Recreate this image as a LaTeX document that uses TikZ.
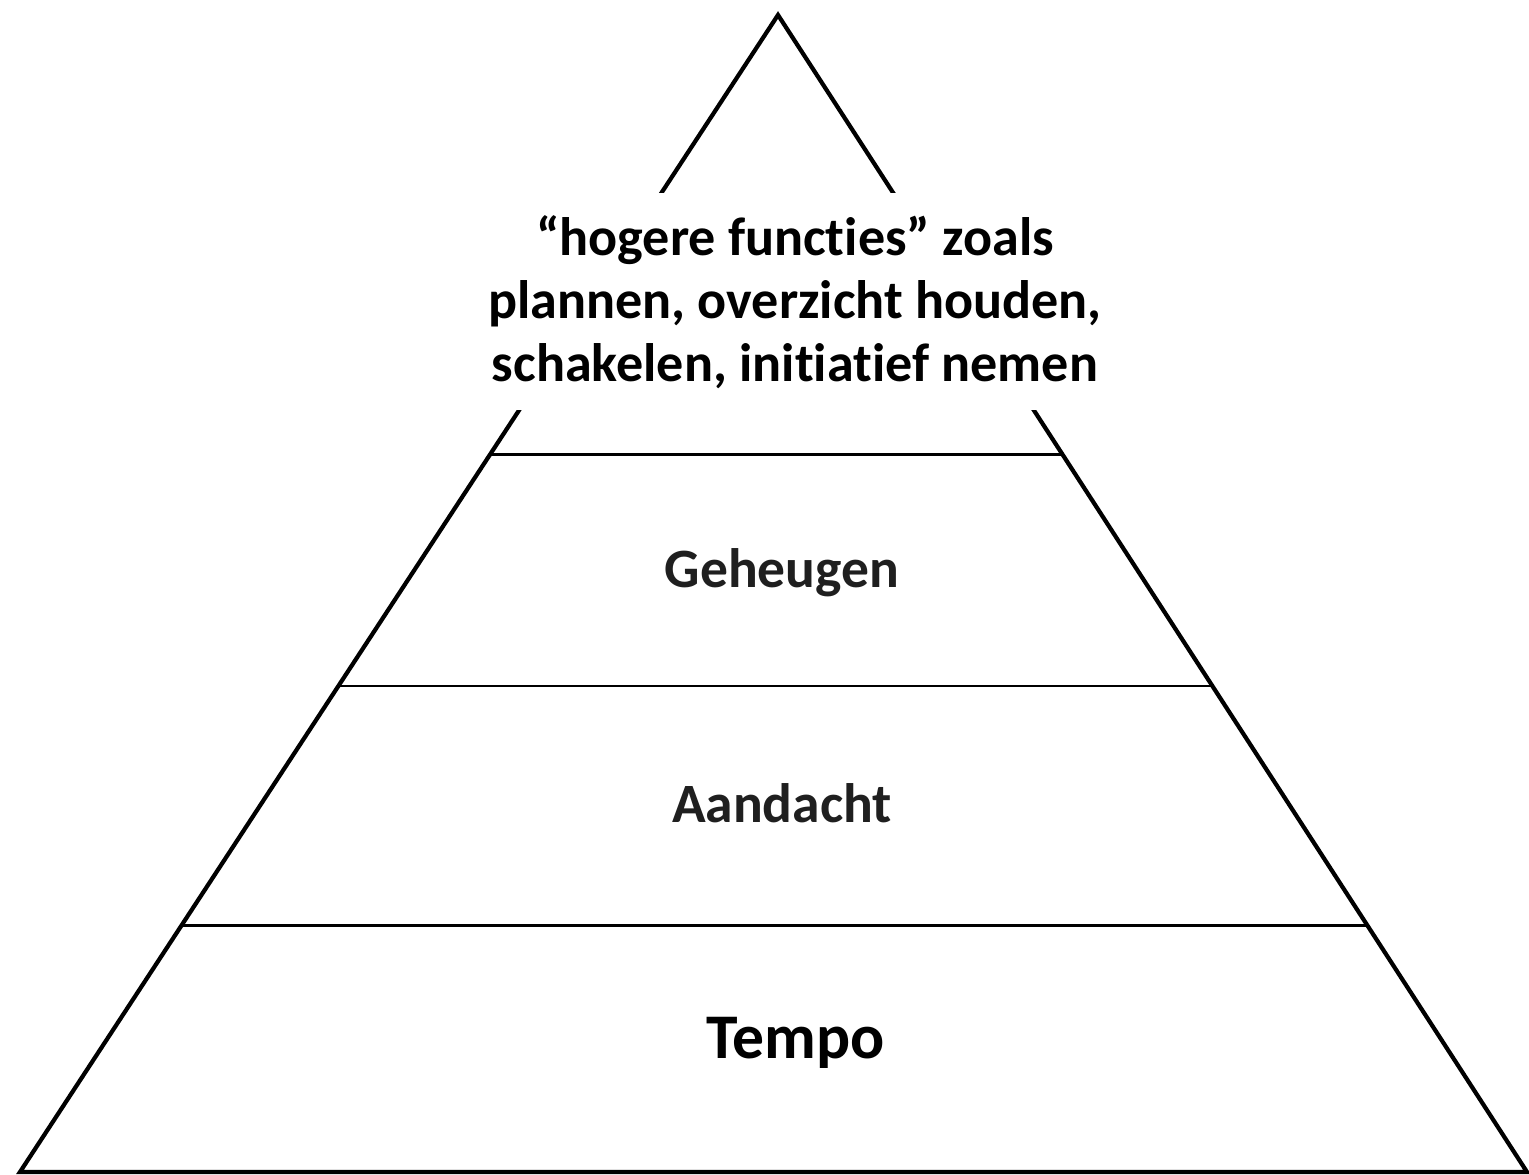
\documentclass[tikz,border=0pt]{standalone}
\usepackage{fontspec}
\setmainfont[Ligatures=NoCommon]{Carlito}
\usetikzlibrary{calc,positioning}

\begin{document}
\begin{tikzpicture}[x=1cm,y=1cm]
\useasboundingbox (0,0) rectangle (15.29,11.75);
\tikzset{edge/.style={line width=1.2pt},
  layer/.style={line width=0.8pt},
  label/.style={font=\bfseries\fontsize{15.8}{18}\selectfont,text=black!88}}
\coordinate (top) at (7.78,11.60);
\coordinate (bl) at (0.20,0.03);
\coordinate (br) at (15.27,0.03);
\draw[edge] (bl) -- (top) -- (br) -- cycle;
% layer boundaries
\foreach \t/\n in {0.380/a,0.580/b,0.787/c}
  \draw[layer] ($(top)!\t!(bl)$) coordinate (l\n) -- ($(top)!\t!(br)$) coordinate (r\n);
\node[fill=white,align=center,minimum width=6.4cm,minimum height=2.17cm,
  font=\bfseries\fontsize{15.4}{17.9}\selectfont] (hoog) at (7.95,8.73)
  {“hogere functies” zoals\\plannen, overzicht houden,\\schakelen, initiatief nemen};
\node[label] (geh) at (7.82,6.02) {Geheugen};
\node[label] (aan) at (7.82,3.72) {Aandacht};
\node[font=\bfseries\fontsize{18.1}{22}\selectfont] (tempo) at (7.96,1.32) {Tempo};
\end{tikzpicture}
\end{document}
